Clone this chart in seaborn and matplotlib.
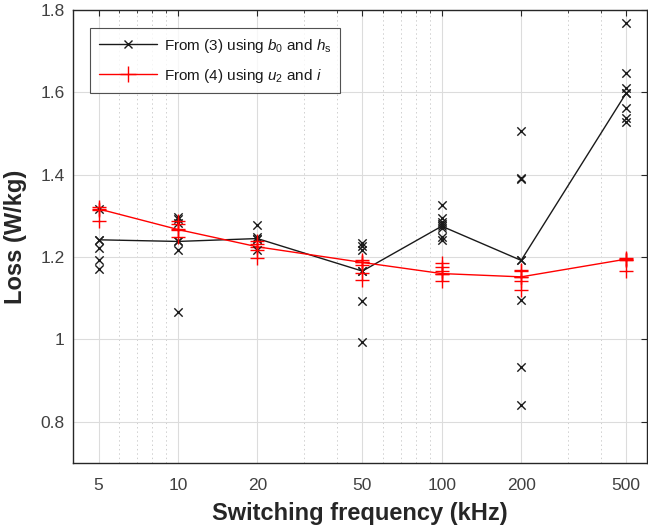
"""
Loss versus switching frequency, two estimation methods.
"""
import numpy as np
import pandas as pd
import matplotlib
matplotlib.use('Agg')
import matplotlib.pyplot as plt
import matplotlib.ticker as mticker
from matplotlib.lines import Line2D
import seaborn as sns

# Switching frequencies (kHz)
freqs = [5, 10, 20, 50, 100, 200, 500]

# Connected values for each method
line_b0 = [1.242, 1.238, 1.245, 1.166, 1.275, 1.192, 1.598]
line_u2 = [1.317, 1.267, 1.225, 1.187, 1.160, 1.152, 1.195]

# Individual samples, method (3)
pts_b0 = {
    5: [1.316, 1.242, 1.221, 1.194, 1.172],
    10: [1.297, 1.292, 1.283, 1.238, 1.218, 1.067],
    20: [1.277, 1.248, 1.243, 1.218],
    50: [1.234, 1.226, 1.218, 1.166, 1.094, 0.994],
    100: [1.327, 1.295, 1.286, 1.281, 1.270, 1.250, 1.242],
    200: [1.505, 1.392, 1.390, 1.192, 1.097, 0.932, 0.842],
    500: [1.769, 1.647, 1.610, 1.598, 1.562, 1.537, 1.527],
}

# Individual samples, method (4)
pts_u2 = {
    5: [1.321, 1.315, 1.287],
    10: [1.287, 1.280, 1.266, 1.250],
    20: [1.240, 1.232, 1.218, 1.199],
    50: [1.194, 1.187, 1.180, 1.162, 1.145],
    100: [1.186, 1.175, 1.166, 1.158, 1.142],
    200: [1.168, 1.166, 1.152, 1.141, 1.121],
    500: [1.198, 1.194, 1.192, 1.167],
}

label_b0 = r'From (3) using $b_0$ and $h_\mathrm{s}$'
label_u2 = r'From (4) using $u_2$ and $i$'

xticks = [5, 10, 20, 50, 100, 200, 500]
xminor = [4, 6, 7, 8, 9, 30, 40, 60, 70, 80, 90, 300, 400, 600]
yticks = [0.8, 1.0, 1.2, 1.4, 1.6, 1.8]
yticklabels = ['0.8', '1', '1.2', '1.4', '1.6', '1.8']

BLACK = '#1a1a1a'
RED = '#ff0000'


def to_long(d):
    rows = [(f, v) for f, vals in d.items() for v in vals]
    return pd.DataFrame(rows, columns=['freq', 'loss'])


sns.set_style('white')
plt.rcParams['font.family'] = ['Liberation Sans', 'DejaVu Sans']
plt.rcParams['mathtext.fontset'] = 'custom'
plt.rcParams['mathtext.it'] = 'Liberation Sans:italic'
plt.rcParams['mathtext.rm'] = 'Liberation Sans'

fig = plt.figure(figsize=(6.48, 5.32), dpi=100)
ax = fig.add_axes([73 / 648, 69 / 532, 574 / 648, 453 / 532])

lines_df = pd.DataFrame({'freq': freqs, 'b0': line_b0, 'u2': line_u2})

sns.lineplot(data=lines_df, x='freq', y='b0', ax=ax, color=BLACK,
             linewidth=1.0, marker='x', markersize=6, markeredgewidth=1.0,
             markeredgecolor=BLACK, legend=False)
sns.lineplot(data=lines_df, x='freq', y='u2', ax=ax, color=RED,
             linewidth=1.0, marker='+', markersize=10, markeredgewidth=1.0,
             markeredgecolor=RED, legend=False)

sns.scatterplot(data=to_long(pts_b0), x='freq', y='loss', ax=ax,
                marker='x', color=BLACK, s=36, linewidth=1.0,
                legend=False, zorder=3)
sns.scatterplot(data=to_long(pts_u2), x='freq', y='loss', ax=ax,
                marker='+', color=RED, s=100, linewidth=1.0,
                legend=False, zorder=3)

ax.set_xscale('log')
ax.set_xlim(4, 600)
ax.set_ylim(0.7, 1.8)
ax.xaxis.set_major_locator(mticker.FixedLocator(xticks))
ax.xaxis.set_major_formatter(mticker.FixedFormatter([str(t) for t in xticks]))
ax.xaxis.set_minor_locator(mticker.FixedLocator(xminor))
ax.xaxis.set_minor_formatter(mticker.NullFormatter())
ax.set_yticks(yticks)
ax.set_yticklabels(yticklabels)

ax.grid(True, which='major', color='#dcdcdc', linewidth=0.8, linestyle='-')
ax.grid(True, which='minor', axis='x', color='#cfcfcf', linewidth=0.7,
        linestyle=(0, (1.5, 3)))
ax.set_axisbelow(True)

for sp in ax.spines.values():
    sp.set_color('#262626')
    sp.set_linewidth(1.0)

ax.tick_params(which='both', direction='in', top=True, right=True,
               colors='#262626', labelcolor='#404040', labelsize=12.5)
ax.tick_params(which='major', length=4, width=0.8)
ax.tick_params(axis='x', which='major', pad=11)
ax.tick_params(axis='y', which='major', pad=6)
ax.tick_params(which='minor', length=2.5, width=0.6)

ax.set_xlabel('Switching frequency (kHz)', fontsize=17, fontweight='bold',
              color='#262626', labelpad=6)
ax.set_ylabel('Loss (W/kg)', fontsize=17, fontweight='bold',
              color='#262626', labelpad=10)

handles = [
    Line2D([], [], color=BLACK, linewidth=1.0, marker='x', markersize=6,
           markeredgewidth=1.0),
    Line2D([], [], color=RED, linewidth=1.0, marker='+', markersize=11,
           markeredgewidth=1.0),
]
leg = ax.legend(handles, [label_b0, label_u2], loc='upper left',
                bbox_to_anchor=(0.03, 0.96), fontsize=11,
                frameon=True, fancybox=False, edgecolor='#262626',
                handlelength=3.8, borderpad=0.55, labelspacing=0.8,
                handletextpad=0.5, borderaxespad=0)
leg.get_frame().set_linewidth(0.8)
for t in leg.get_texts():
    t.set_color(BLACK)

fig.savefig('out.png', dpi=100)
plt.close(fig)
